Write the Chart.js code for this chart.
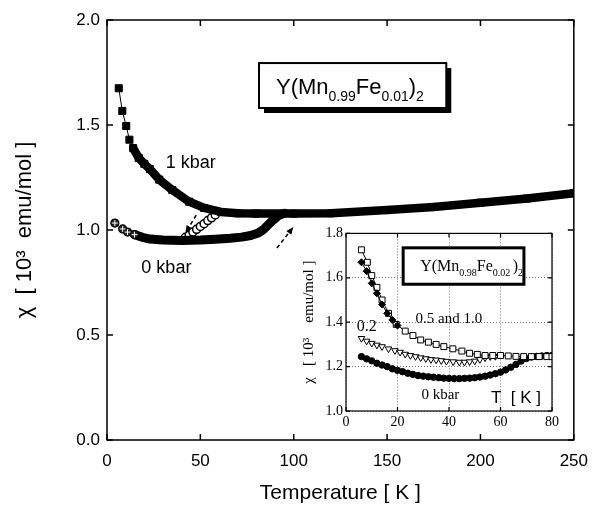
<!DOCTYPE html>
<html>
<head>
<meta charset="utf-8">
<script src="https://cdn.jsdelivr.net/npm/chart.js@4"></script>
<style>
  body { margin: 0; background: #fff; }
  #wrap { position: relative; width: 599px; height: 506px; }
  #inset { position: absolute; left: 298px; top: 222px; background: #fff; }
</style>
</head>
<body>
<div id="wrap">
  <canvas id="main" width="599" height="506"></canvas>
  <canvas id="inset" width="264" height="212"></canvas>
</div>
<script>
// Main plot: Y(Mn0.99Fe0.01)2
const kbar1T   = [6.3, 8.2, 10.3, 12, 14, 17, 20, 23, 28, 35, 44, 52, 61, 70, 80, 100, 120, 150, 175, 200, 225, 250];
const kbar1Chi = [1.675, 1.567, 1.495, 1.43, 1.39, 1.343, 1.315, 1.29, 1.24, 1.19, 1.135, 1.105, 1.086, 1.08, 1.078, 1.078, 1.08, 1.095, 1.11, 1.13, 1.15, 1.175];

const kbar0T   = [4.2, 8.4, 11, 14.7, 19, 23, 30, 40, 50, 58, 66, 72, 77, 81, 84, 86, 88, 90, 92, 95];
const kbar0Chi = [1.033, 1.005, 0.99, 0.978, 0.965, 0.957, 0.952, 0.95, 0.952, 0.956, 0.961, 0.966, 0.974, 0.986, 1.004, 1.022, 1.04, 1.055, 1.07, 1.08];

const openT   = [42, 44, 46, 48, 50, 52, 54, 56, 58];
const openChi = [0.965, 0.975, 0.99, 1.003, 1.017, 1.03, 1.045, 1.058, 1.072];

// Inset: Y(Mn0.98Fe0.02)2
const sqT   = [6, 8.3, 10, 12, 14, 16.5, 19.5, 23, 26, 29, 32, 35, 38, 41.5, 45, 48, 51, 54, 57, 60, 63, 66, 69, 72, 75, 78, 80];
const sqChi = [1.726, 1.67, 1.61, 1.557, 1.50, 1.44, 1.39, 1.36, 1.34, 1.32, 1.31, 1.30, 1.29, 1.28, 1.27, 1.26, 1.255, 1.25, 1.25, 1.25, 1.248, 1.246, 1.245, 1.245, 1.245, 1.245, 1.245];

const fillT   = [6, 8, 10, 12, 14, 16, 18, 20];
const fillChi = [1.67, 1.63, 1.575, 1.53, 1.48, 1.44, 1.41, 1.385];

const triT   = [6, 8, 10, 12, 14, 16.5, 19, 21, 23, 25, 27, 29, 31, 33, 35, 37, 39, 41.6, 44, 46, 48, 50, 52, 54, 56, 58];
const triChi = [1.327, 1.315, 1.305, 1.297, 1.29, 1.28, 1.272, 1.265, 1.256, 1.25, 1.245, 1.24, 1.236, 1.232, 1.23, 1.227, 1.224, 1.222, 1.22, 1.22, 1.222, 1.225, 1.232, 1.24, 1.245, 1.246];

const dotT   = [6, 8, 10, 12, 14, 16, 18, 20, 22, 24, 26, 28, 30, 32, 34, 36, 38, 40, 42, 44, 46, 48, 50, 52, 54, 56, 58, 60, 62, 64, 66, 68, 70, 72, 74, 76, 78, 80];
const dotChi = [1.245, 1.235, 1.226, 1.215, 1.207, 1.2, 1.19, 1.183, 1.177, 1.17, 1.165, 1.16, 1.157, 1.154, 1.152, 1.15, 1.148, 1.147, 1.146, 1.146, 1.147, 1.148, 1.15, 1.153, 1.157, 1.162, 1.168, 1.175, 1.185, 1.197, 1.21, 1.225, 1.236, 1.243, 1.246, 1.248, 1.25, 1.25];

const SANS = '"Liberation Sans", Arial, sans-serif';
const SERIF = '"Liberation Serif", "Times New Roman", serif';

function pts(xs, ys) {
    return xs.map((x, i) => ({ x: x, y: ys[i] }));
}

// draws text made of normal and subscript pieces
function drawRich(ctx, x, y, parts, size, subSize, family) {
    let cx = x;
    ctx.textAlign = 'left';
    ctx.textBaseline = 'alphabetic';
    parts.forEach(p => {
        ctx.font = (p.sub ? subSize : size) + 'px ' + family;
        ctx.fillText(p.t, cx, y + (p.sub ? size * 0.3 : 0));
        cx += ctx.measureText(p.t).width;
    });
}

// frame and inward ticks on all four sides
function framePlugin(tickLen, lw) {
    return {
        id: 'frame',
        afterDraw(chart) {
            const ctx = chart.ctx;
            const a = chart.chartArea;
            ctx.save();
            ctx.strokeStyle = '#000';
            ctx.lineWidth = lw;
            ctx.strokeRect(a.left, a.top, a.right - a.left, a.bottom - a.top);
            ctx.beginPath();
            chart.scales.x.ticks.forEach(t => {
                const px = chart.scales.x.getPixelForValue(t.value);
                ctx.moveTo(px, a.bottom); ctx.lineTo(px, a.bottom - tickLen);
                ctx.moveTo(px, a.top); ctx.lineTo(px, a.top + tickLen);
            });
            chart.scales.y.ticks.forEach(t => {
                const py = chart.scales.y.getPixelForValue(t.value);
                ctx.moveTo(a.left, py); ctx.lineTo(a.left + tickLen, py);
                ctx.moveTo(a.right, py); ctx.lineTo(a.right - tickLen, py);
            });
            ctx.stroke();
            ctx.restore();
        }
    };
}

// crossed circles for the first 0 kbar points
const crossMarks = {
    id: 'crossMarks',
    afterDatasetsDraw(chart) {
        const ctx = chart.ctx;
        const meta = chart.getDatasetMeta(1);
        ctx.save();
        ctx.strokeStyle = '#fff';
        ctx.lineWidth = 1;
        meta.data.forEach((el, i) => {
            if (kbar0T[i] >= 15) return;
            ctx.beginPath();
            ctx.moveTo(el.x - 3, el.y); ctx.lineTo(el.x + 3, el.y);
            ctx.moveTo(el.x, el.y - 3); ctx.lineTo(el.x, el.y + 3);
            ctx.stroke();
        });
        ctx.restore();
    }
};

const mainNotes = {
    id: 'mainNotes',
    afterDraw(chart) {
        const ctx = chart.ctx;
        const sx = chart.scales.x, sy = chart.scales.y;
        ctx.save();
        ctx.fillStyle = '#000';
        ctx.font = '18px ' + SANS;
        ctx.textBaseline = 'middle';
        ctx.fillText('1 kbar', sx.getPixelForValue(31.5), sy.getPixelForValue(1.32));
        ctx.fillText('0 kbar', sx.getPixelForValue(18.4), sy.getPixelForValue(0.82));

        // title box with shadow
        const bx0 = sx.getPixelForValue(81.4), bx1 = sx.getPixelForValue(181.7);
        const by0 = sy.getPixelForValue(1.795), by1 = sy.getPixelForValue(1.581);
        ctx.fillRect(bx0 + 5, by0 + 5, bx1 - bx0, by1 - by0);
        ctx.fillStyle = '#fff';
        ctx.fillRect(bx0, by0, bx1 - bx0, by1 - by0);
        ctx.strokeStyle = '#000';
        ctx.lineWidth = 2;
        ctx.strokeRect(bx0, by0, bx1 - bx0, by1 - by0);
        ctx.fillStyle = '#000';
        drawRich(ctx, bx0 + 17, by0 + 31, [
            { t: 'Y(Mn' }, { t: '0.99', sub: true }, { t: 'Fe' }, { t: '0.01', sub: true },
            { t: ')' }, { t: '2', sub: true }
        ], 22, 14, SANS);

        // dashed arrows
        const arrows = [[47.8, 1.071, 42, 0.986], [91, 0.914, 99.8, 1.014]];
        arrows.forEach(a => {
            const x0 = sx.getPixelForValue(a[0]), y0 = sy.getPixelForValue(a[1]);
            const x1 = sx.getPixelForValue(a[2]), y1 = sy.getPixelForValue(a[3]);
            const ang = Math.atan2(y1 - y0, x1 - x0);
            ctx.setLineDash([4, 3]);
            ctx.lineWidth = 1.5;
            ctx.beginPath();
            ctx.moveTo(x0, y0);
            ctx.lineTo(x1 - 6 * Math.cos(ang), y1 - 6 * Math.sin(ang));
            ctx.stroke();
            ctx.setLineDash([]);
            ctx.beginPath();
            ctx.moveTo(x1, y1);
            ctx.lineTo(x1 - 8 * Math.cos(ang - 0.4), y1 - 8 * Math.sin(ang - 0.4));
            ctx.lineTo(x1 - 8 * Math.cos(ang + 0.4), y1 - 8 * Math.sin(ang + 0.4));
            ctx.closePath();
            ctx.fill();
        });
        ctx.restore();
    }
};

new Chart(document.getElementById('main'), {
    type: 'scatter',
    data: {
        datasets: [
            {
                data: pts(kbar1T, kbar1Chi),
                showLine: true,
                borderColor: '#000',
                backgroundColor: '#000',
                pointStyle: 'rect',
                pointRadius: 5,
                borderCapStyle: 'round',
                borderJoinStyle: 'round',
                segment: { borderWidth: c => c.p0.parsed.x >= 14 ? 8.5 : 1 }
            },
            {
                data: pts(kbar0T, kbar0Chi),
                showLine: true,
                borderColor: '#000',
                backgroundColor: '#222',
                pointBorderColor: '#000',
                pointBorderWidth: 1.2,
                pointRadius: c => (c.raw && c.raw.x < 15) ? 4 : 0,
                borderCapStyle: 'round',
                borderJoinStyle: 'round',
                segment: { borderWidth: c => c.p0.parsed.x >= 14.7 ? 9 : 1 }
            },
            {
                data: pts(openT, openChi),
                showLine: false,
                pointStyle: 'circle',
                pointRadius: 4,
                pointBorderWidth: 1.5,
                pointBorderColor: '#000',
                pointBackgroundColor: '#fff'
            }
        ]
    },
    options: {
        responsive: false,
        animation: false,
        layout: { padding: { left: 0, right: 16, top: 20, bottom: 0 } },
        plugins: { legend: { display: false }, tooltip: { enabled: false } },
        scales: {
            x: {
                type: 'linear', min: 0, max: 250,
                afterFit: s => { s.height = 66; },
                grid: { display: false, drawTicks: false },
                border: { display: false },
                ticks: { stepSize: 50, padding: 11, color: '#000', font: { family: SANS, size: 17 } },
                title: { display: true, text: 'Temperature [ K ]', color: '#000', font: { family: SANS, size: 21 }, padding: { top: 0, bottom: 0 } }
            },
            y: {
                min: 0, max: 2,
                afterFit: s => { s.width = 107; },
                grid: { display: false, drawTicks: false },
                border: { display: false },
                ticks: { stepSize: 0.5, padding: 7, color: '#000', font: { family: SANS, size: 17 }, callback: v => v.toFixed(1) },
                title: { display: true, text: 'χ  [ 10³  emu/mol ]', color: '#000', font: { family: SANS, size: 22 }, padding: { top: 12, bottom: 0 } }
            }
        }
    },
    plugins: [framePlugin(6, 1.5), crossMarks, mainNotes]
});

const insetNotes = {
    id: 'insetNotes',
    afterDraw(chart) {
        const ctx = chart.ctx;
        const sx = chart.scales.x, sy = chart.scales.y;
        ctx.save();
        ctx.fillStyle = '#000';
        ctx.textBaseline = 'middle';
        ctx.font = '16px ' + SERIF;
        ctx.fillText('0.2', sx.getPixelForValue(4.2), sy.getPixelForValue(1.38));
        ctx.font = '15px ' + SERIF;
        ctx.fillText('0.5 and 1.0', sx.getPixelForValue(27), sy.getPixelForValue(1.416));
        ctx.fillText('0 kbar', sx.getPixelForValue(29.3), sy.getPixelForValue(1.07));
        ctx.font = '17px ' + SANS;
        ctx.fillText('T  [ K ]', sx.getPixelForValue(56.3), sy.getPixelForValue(1.058));

        const bx0 = sx.getPixelForValue(22.2), bx1 = sx.getPixelForValue(69.1);
        const by0 = sy.getPixelForValue(1.735), by1 = sy.getPixelForValue(1.571);
        ctx.fillStyle = '#fff';
        ctx.fillRect(bx0, by0, bx1 - bx0, by1 - by0);
        ctx.strokeStyle = '#000';
        ctx.lineWidth = 3;
        ctx.strokeRect(bx0, by0, bx1 - bx0, by1 - by0);
        ctx.fillStyle = '#000';
        drawRich(ctx, bx0 + 17, by0 + 23, [
            { t: 'Y(Mn' }, { t: '0.98', sub: true }, { t: 'Fe' }, { t: '0.02 ', sub: true },
            { t: ')' }, { t: '2', sub: true }
        ], 16, 10, SERIF);
        ctx.restore();
    }
};

new Chart(document.getElementById('inset'), {
    type: 'scatter',
    data: {
        datasets: [
            {
                data: pts(fillT, fillChi),
                showLine: true, borderWidth: 1, borderColor: '#000',
                pointStyle: 'rectRot', pointRadius: 3.5,
                pointBackgroundColor: '#000', pointBorderColor: '#000'
            },
            {
                data: pts(sqT, sqChi),
                showLine: true, borderWidth: 1, borderColor: '#000',
                segment: { borderWidth: c => c.p0.parsed.x >= 20 ? 0 : 1 },
                pointStyle: 'rect', pointRadius: 4.2, pointBorderWidth: 1,
                pointBackgroundColor: '#fff', pointBorderColor: '#000'
            },
            {
                data: pts(triT, triChi),
                showLine: false,
                pointStyle: 'triangle', rotation: 180, pointRadius: 3.8, pointBorderWidth: 1,
                pointBackgroundColor: '#fff', pointBorderColor: '#000'
            },
            {
                data: pts(dotT, dotChi),
                showLine: false,
                pointStyle: 'circle', pointRadius: 3.2,
                pointBackgroundColor: '#000', pointBorderColor: '#000'
            }
        ]
    },
    options: {
        responsive: false,
        animation: false,
        layout: { padding: { left: 0, right: 3, top: 8, bottom: 0 } },
        plugins: { legend: { display: false }, tooltip: { enabled: false } },
        scales: {
            x: {
                type: 'linear', min: 0, max: 80,
                afterFit: s => { s.height = 23; },
                grid: { color: '#777', drawTicks: false },
                border: { display: false, dash: [1, 2] },
                ticks: { stepSize: 20, padding: 3, color: '#000', font: { family: SERIF, size: 14 } }
            },
            y: {
                min: 1.0, max: 1.8,
                afterFit: s => { s.width = 48; },
                grid: { color: '#777', drawTicks: false },
                border: { display: false, dash: [1, 2] },
                ticks: { stepSize: 0.2, padding: 3, color: '#000', font: { family: SERIF, size: 14 }, callback: v => v.toFixed(1) },
                title: { display: true, text: 'χ   [ 10³    emu/mol ]', color: '#000', font: { family: SERIF, size: 15 }, padding: { top: 2, bottom: 0 } }
            }
        }
    },
    plugins: [framePlugin(4, 1.2), insetNotes]
});
</script>
</body>
</html>
